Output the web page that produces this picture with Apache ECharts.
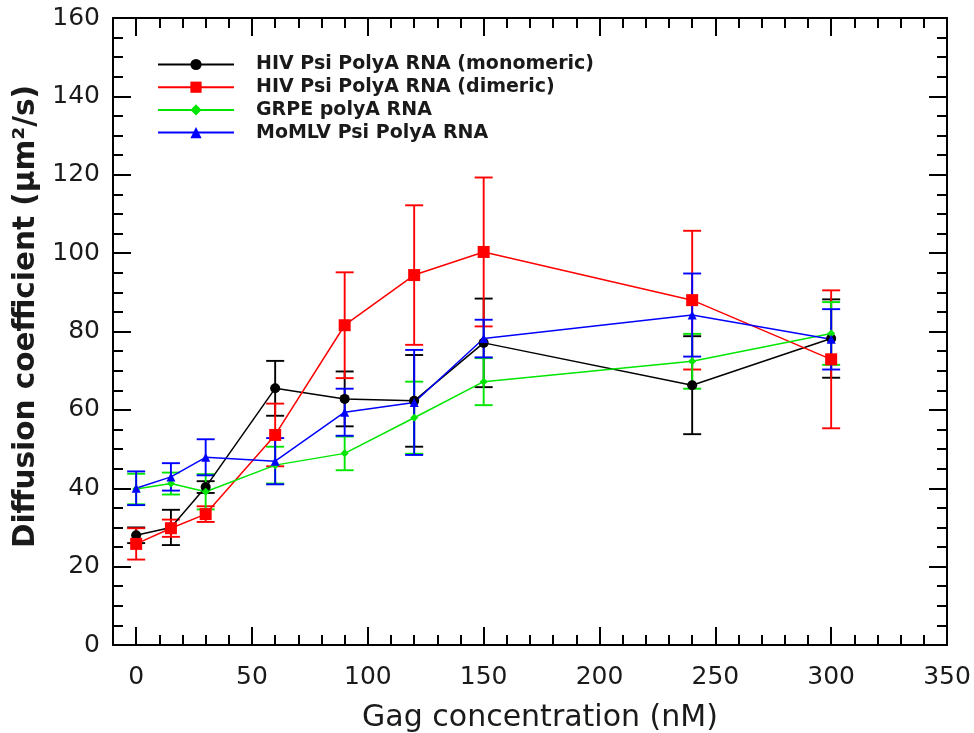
<!DOCTYPE html>
<html>
<head>
<meta charset="utf-8">
<script src="https://cdn.jsdelivr.net/npm/echarts@6/dist/echarts.min.js"></script>
<style>
html,body{margin:0;padding:0;background:#fff;}
#chart{width:974px;height:733px;}
</style>
</head>
<body>
<div id="chart"></div>
<script>
// ---- data ----
const concentrations = [0, 15, 30, 60, 90, 120, 150, 240, 300];

const seriesNames = [
  'HIV Psi PolyA RNA (monomeric)',
  'HIV Psi PolyA RNA (dimeric)',
  'GRPE polyA RNA',
  'MoMLV Psi PolyA RNA'
];

const monomeric    = [28.0, 30.0, 40.3, 65.5, 62.8, 62.3, 77.1, 66.3, 78.2];
const monomericErr = [2.0, 4.5, 1.5, 7.0, 7.0, 11.7, 11.3, 12.5, 10.0];

const dimeric      = [25.8, 29.8, 33.4, 53.6, 81.6, 94.4, 100.3, 88.0, 72.9];
const dimericErr   = [4.0, 2.2, 2.0, 8.0, 13.5, 17.8, 19.0, 17.7, 17.6];

const grpe         = [39.8, 41.2, 39.1, 45.9, 48.9, 58.0, 67.2, 72.4, 79.5];
const grpeErr      = [3.9, 2.8, 4.5, 4.7, 4.3, 9.2, 6.0, 7.0, 8.0];

const momlv        = [40.0, 42.9, 47.9, 46.9, 59.4, 61.9, 78.2, 84.2, 78.0];
const momlvErr     = [4.3, 3.5, 4.6, 5.9, 6.0, 13.4, 4.8, 10.6, 7.7];

const xMajorTicks = [0, 50, 100, 150, 200, 250, 300, 350];
const xMinorTicks = [10, 20, 30, 40, 60, 70, 80, 90, 110, 120, 130, 140, 160, 170, 180, 190,
                     210, 220, 230, 240, 260, 270, 280, 290, 310, 320, 330, 340];

// ---- chart ----
const colors = ['#000000', '#ff0000', '#00e600', '#0000ff'];
const symbols = ['circle', 'rect', 'diamond', 'triangle'];
const symbolSizes = [10, 12, 8, 9];
const values = [monomeric, dimeric, grpe, momlv];
const errors = [monomericErr, dimericErr, grpeErr, momlvErr];

const FONT = 'DejaVu Sans';

function errRender(color) {
  return function (params, api) {
    const x = api.value(0), lo = api.value(1), hi = api.value(2);
    const t = api.coord([x, hi]);
    const b = api.coord([x, lo]);
    const hw = 9;
    const style = { stroke: color, lineWidth: 1.9, fill: null };
    return {
      type: 'group',
      children: [
        { type: 'line', shape: { x1: t[0], y1: t[1], x2: b[0], y2: b[1] }, style: style },
        { type: 'line', shape: { x1: t[0] - hw, y1: t[1], x2: t[0] + hw, y2: t[1] }, style: style },
        { type: 'line', shape: { x1: b[0] - hw, y1: b[1], x2: b[0] + hw, y2: b[1] }, style: style }
      ]
    };
  };
}

const series = [];
for (let i = 0; i < 4; i++) {
  series.push({
    type: 'custom',
    name: seriesNames[i] + ' err',
    xAxisIndex: 0, yAxisIndex: 0,
    renderItem: errRender(colors[i]),
    encode: { x: 0, y: [1, 2] },
    data: concentrations.map((c, j) => [c, values[i][j] - errors[i][j], values[i][j] + errors[i][j]]),
    z: 2,
    silent: true
  });
}
for (let i = 0; i < 4; i++) {
  series.push({
    type: 'line',
    name: seriesNames[i],
    xAxisIndex: 0, yAxisIndex: 0,
    data: concentrations.map((c, j) => [c, values[i][j]]),
    symbol: symbols[i],
    symbolSize: symbolSizes[i],
    showAllSymbol: true,
    itemStyle: { color: colors[i] },
    lineStyle: { color: colors[i], width: 1.5 },
    z: 3,
    animation: false
  });
}

const axisLineStyle = { color: '#000', width: 2 };
const tickStyle = { color: '#000', width: 2 };

const chart = echarts.init(document.getElementById('chart'), null, { renderer: 'canvas' });
chart.setOption({
  animation: false,
  backgroundColor: '#fff',
  grid: { left: 113, right: 27, top: 18, bottom: 88, containLabel: false, outerBoundsMode: 'none' },
  legend: {
    data: seriesNames,
    orient: 'vertical',
    left: 157,
    top: 55,
    padding: 0,
    itemWidth: 76,
    itemHeight: 14,
    itemGap: 3.7,
    textStyle: { fontFamily: FONT, fontWeight: 'bold', fontSize: 19, color: '#1a1a1a', lineHeight: 19, padding: [0, 0, 0, 17] }
  },
  xAxis: [
    {
      type: 'value', min: -10, max: 350, position: 'bottom',
      name: 'Gag concentration (nM)', nameLocation: 'middle', nameGap: 58,
      nameTextStyle: { fontFamily: FONT, fontSize: 30, color: '#1a1a1a', padding: [0, 0, 0, 20] },
      axisLine: { show: true, onZero: false, lineStyle: axisLineStyle },
      axisTick: { show: true, inside: true, length: 18, customValues: xMajorTicks, lineStyle: tickStyle },
      axisLabel: { customValues: xMajorTicks, margin: 20, fontFamily: FONT, fontSize: 25, color: '#1a1a1a' },
      splitLine: { show: false }
    },
    {
      type: 'value', min: -10, max: 350, position: 'bottom',
      axisLine: { show: false, onZero: false },
      axisTick: { show: true, inside: true, length: 10, customValues: xMinorTicks, lineStyle: tickStyle },
      axisLabel: { show: false },
      splitLine: { show: false }
    },
    {
      type: 'value', min: -10, max: 350, position: 'top',
      axisLine: { show: true, onZero: false, lineStyle: axisLineStyle },
      axisTick: { show: true, inside: true, length: 18, customValues: xMajorTicks, lineStyle: tickStyle },
      axisLabel: { show: false },
      splitLine: { show: false }
    },
    {
      type: 'value', min: -10, max: 350, position: 'top',
      axisLine: { show: false, onZero: false },
      axisTick: { show: true, inside: true, length: 10, customValues: xMinorTicks, lineStyle: tickStyle },
      axisLabel: { show: false },
      splitLine: { show: false }
    }
  ],
  yAxis: [
    {
      type: 'value', min: 0, max: 160, interval: 20, position: 'left',
      name: 'Diffusion coefficient (μm²/s)', nameLocation: 'middle', nameGap: 63,
      nameTextStyle: { fontFamily: FONT, fontSize: 29.5, fontWeight: 'bold', color: '#1a1a1a', padding: [0, 0, 0, 30] },
      axisLine: { show: true, onZero: false, lineStyle: axisLineStyle },
      axisTick: { show: true, inside: true, length: 18, lineStyle: tickStyle },
      minorTick: { show: true, splitNumber: 4, length: 10, lineStyle: tickStyle },
      axisLabel: { margin: 13, fontFamily: FONT, fontSize: 25, color: '#1a1a1a' },
      splitLine: { show: false }
    },
    {
      type: 'value', min: 0, max: 160, interval: 20, position: 'right',
      axisLine: { show: true, onZero: false, lineStyle: axisLineStyle },
      axisTick: { show: true, inside: true, length: 18, lineStyle: tickStyle },
      minorTick: { show: true, splitNumber: 4, length: 10, lineStyle: tickStyle },
      axisLabel: { show: false },
      splitLine: { show: false }
    }
  ],
  series: series
});
</script>
</body>
</html>
